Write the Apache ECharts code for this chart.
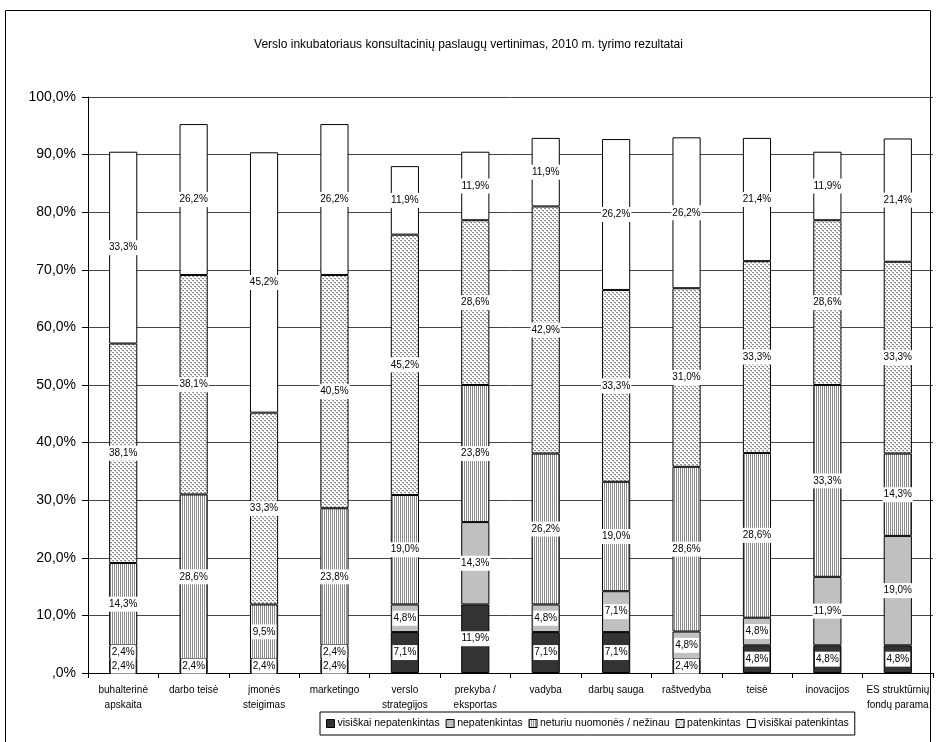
<!DOCTYPE html>
<html><head><meta charset="utf-8">
<script src="https://cdn.jsdelivr.net/npm/echarts@6/dist/echarts.min.js"></script>
<style>html,body{margin:0;padding:0;background:#fff}#c{width:937px;height:742px}</style>
</head><body><div id="c"></div>
<script>
const categories = ['buhalterinė\napskaita','darbo teisė','įmonės\nsteigimas','marketingo','verslo\nstrategijos\nformavimas','prekyba /\neksportas','vadyba','darbų sauga','raštvedyba','teisė','inovacijos','ES struktūrnių\nfondų parama'];
const seriesNames = ['visiškai nepatenkintas','nepatenkintas','neturiu nuomonės / nežinau','patenkintas','visiškai patenkintas'];
const visiskaiNepatenkintas = [2.4,2.4,2.4,2.4,7.1,11.9,7.1,7.1,2.4,4.8,4.8,4.8];
const nepatenkintas        = [2.4,0,0,2.4,4.8,14.3,4.8,7.1,4.8,4.8,11.9,19.0];
const neturiuNuomones      = [14.3,28.6,9.5,23.8,19.0,23.8,26.2,19.0,28.6,28.6,33.3,14.3];
const patenkintas          = [38.1,38.1,33.3,40.5,45.2,28.6,42.9,33.3,31.0,33.3,28.6,33.3];
const visiskaiPatenkintas  = [33.3,26.2,45.2,26.2,11.9,11.9,11.9,26.2,26.2,21.4,11.9,21.4];
const yTicks = [0,10,20,30,40,50,60,70,80,90,100];

function makeCanvas(w,h,fn){const c=document.createElement('canvas');c.width=w;c.height=h;const g=c.getContext('2d');fn(g);return c;}
const stripes = makeCanvas(2,2,g=>{g.fillStyle='#fff';g.fillRect(0,0,2,2);g.fillStyle='#8a8a8a';g.fillRect(0,0,1,2);});
const dots = makeCanvas(4,4,g=>{g.fillStyle='#fff';g.fillRect(0,0,4,4);g.fillStyle='#8c8c8c';g.fillRect(0,0,2,1);g.fillRect(2,2,2,1);g.fillStyle='#c8c8c8';g.fillRect(1,1,1,1);g.fillRect(3,3,1,1);});
const fills = ['#333333','#c0c0c0',{image:stripes,repeat:'repeat'},{image:dots,repeat:'repeat'},'#ffffff'];
const allData = [visiskaiNepatenkintas,nepatenkintas,neturiuNuomones,patenkintas,visiskaiPatenkintas];
const fmt = v => (v===0?',0':v.toFixed(1).replace('.',','))+'%';

const chart = echarts.init(document.getElementById('c'),null,{renderer:'canvas'});
chart.setOption({
  animation:false,
  textStyle:{fontFamily:'Liberation Sans, Arial, sans-serif'},
  title:{text:'Verslo inkubatoriaus konsultacinių paslaugų vertinimas, 2010 m. tyrimo rezultatai',left:'center',top:34,textStyle:{fontSize:12,fontWeight:'normal',color:'#000',fontFamily:'Liberation Sans, Arial, sans-serif'}},
  graphic:[{type:'rect',shape:{x:5.5,y:10.5,width:925,height:740},style:{fill:'none',stroke:'#000',lineWidth:1},z:100,silent:true}],
  legend:{data:seriesNames,left:320,top:712,width:600,itemWidth:8,itemHeight:8,itemGap:6,icon:'rect',
    borderColor:'#000',borderWidth:1,padding:[6,6],backgroundColor:'#fff',z:20,
    itemStyle:{borderColor:'#000',borderWidth:1},
    textStyle:{fontSize:10.5,color:'#000',fontFamily:'Liberation Sans, Arial, sans-serif',padding:[0,0,0,-2]}},
  grid:{left:88,right:4,top:97,bottom:69},
  xAxis:{type:'category',data:categories,
    axisLine:{lineStyle:{color:'#000'}},
    axisTick:{show:true,length:5,lineStyle:{color:'#000'}},
    axisLabel:{fontSize:10,color:'#000',interval:0,margin:10,lineHeight:15}},
  yAxis:{type:'value',min:0,max:100,interval:10,
    axisLine:{show:true,lineStyle:{color:'#000'}},
    axisTick:{show:true,length:6,lineStyle:{color:'#000'}},
    splitLine:{lineStyle:{color:'#444',width:1}},
    axisLabel:{fontSize:14,color:'#000',margin:12,formatter:v=>yTicks.includes(v)?fmt(v):''}},
  series: seriesNames.map((n,i)=>({
    name:n,type:'bar',stack:'t',barWidth:'40%',
    data:allData[i].map(v=>v===0?null:v),
    itemStyle:{color:fills[i],borderColor:'#000',borderWidth:1},
    label:{show:true,position:'inside',formatter:p=>fmt(p.value),fontSize:10,color:'#000',backgroundColor:'#fff',padding:[3,1,2,1],fontFamily:'Liberation Sans, Arial, sans-serif'}
  }))
});
</script></body></html>
